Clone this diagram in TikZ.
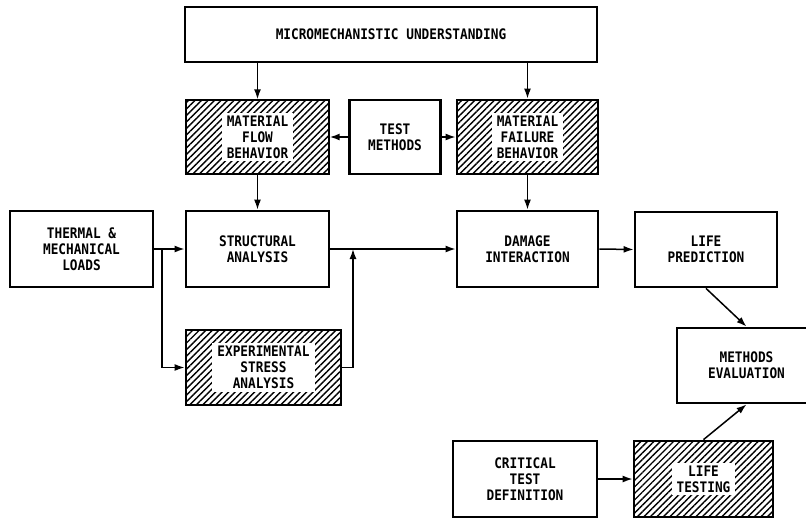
\documentclass[tikz,border=0pt]{standalone}
\usepackage{fontspec}
\newfontfamily\boxfont[FakeStretch=0.88]{DejaVu Sans Mono}
\usetikzlibrary{patterns.meta,arrows.meta}
\begin{document}
\begin{tikzpicture}[x=1pt,y=-1pt,
  box/.style={draw, line width=2.8pt, inner sep=0pt, align=center,
    font=\boxfont\bfseries\fontsize{14.5}{16}\selectfont},
  hatch/.style={box, pattern={Lines[angle=45,distance=4.6pt,line width=1.4pt]}},
  boxtext/.style={fill=white, inner xsep=5pt, inner ysep=3pt, align=center,
    font=\boxfont\bfseries\fontsize{14.5}{16}\selectfont},
  arr/.style={line width=1.5pt, -{Latex[length=10pt,width=7pt]}}]
  \useasboundingbox[fill=white] (0,0) rectangle (806,523);
  \node[box, minimum width=412pt, minimum height=55pt] (micro) at (391,34.5) {MICROMECHANISTIC UNDERSTANDING};
  \node[hatch, minimum width=143pt, minimum height=74pt] (flow) at (257.5,137) {};
  \node[boxtext] (flowtxt) at (flow) {MATERIAL\\FLOW\\BEHAVIOR};
  \node[box, minimum width=91pt, minimum height=74pt] (test) at (395,137) {TEST\\METHODS};
  \node[hatch, minimum width=141pt, minimum height=74pt] (fail) at (527.5,137) {};
  \node[boxtext] (failtxt) at (fail) {MATERIAL\\FAILURE\\BEHAVIOR};
  \node[box, minimum width=143pt, minimum height=76pt] (loads) at (81.5,249) {THERMAL \&\\MECHANICAL\\LOADS};
  \node[box, minimum width=143pt, minimum height=76pt] (struct) at (257.5,249) {STRUCTURAL\\ANALYSIS};
  \node[box, minimum width=141pt, minimum height=76pt] (damage) at (527.5,249) {DAMAGE\\INTERACTION};
  \node[box, minimum width=142pt, minimum height=75pt] (pred) at (706,249.5) {LIFE\\PREDICTION};
  \node[hatch, minimum width=155pt, minimum height=75pt] (exp) at (263.5,367.5) {};
  \node[boxtext] (exptxt) at (exp) {EXPERIMENTAL\\STRESS\\ANALYSIS};
  \node[box, minimum width=139pt, minimum height=75pt] (eval) at (746.5,365.5) {METHODS\\EVALUATION};
  \node[box, minimum width=144pt, minimum height=76pt] (crit) at (525,479) {CRITICAL\\TEST\\DEFINITION};
  \node[hatch, minimum width=139pt, minimum height=76pt] (lifetest) at (703.5,479) {};
  \node[boxtext] (lifetesttxt) at (lifetest) {LIFE\\TESTING};
  \coordinate (split) at (162,249);
  \coordinate (join) at (353,249);
  \draw[arr] (micro.south -| flow.north) -- (flow.north);
  \draw[arr] (micro.south -| fail.north) -- (fail.north);
  \draw[arr] (test.west) -- (flow.east);
  \draw[arr] (test.east) -- (fail.west);
  \draw[arr] (flow.south) -- (struct.north);
  \draw[arr] (fail.south) -- (damage.north);
  \draw[arr] (loads.east) -- (struct.west);
  \draw[arr] (split) |- (exp.west);
  \draw[arr] (exp.east) -| (join);
  \draw[arr] (struct.east) -- (damage.west);
  \draw[arr] (damage.east) -- (pred.west);
  \draw[arr] (pred.south) -- (eval.north);
  \draw[arr] (crit.east) -- (lifetest.west);
  \draw[arr] (lifetest.north) -- (eval.south);
\end{tikzpicture}
\end{document}
